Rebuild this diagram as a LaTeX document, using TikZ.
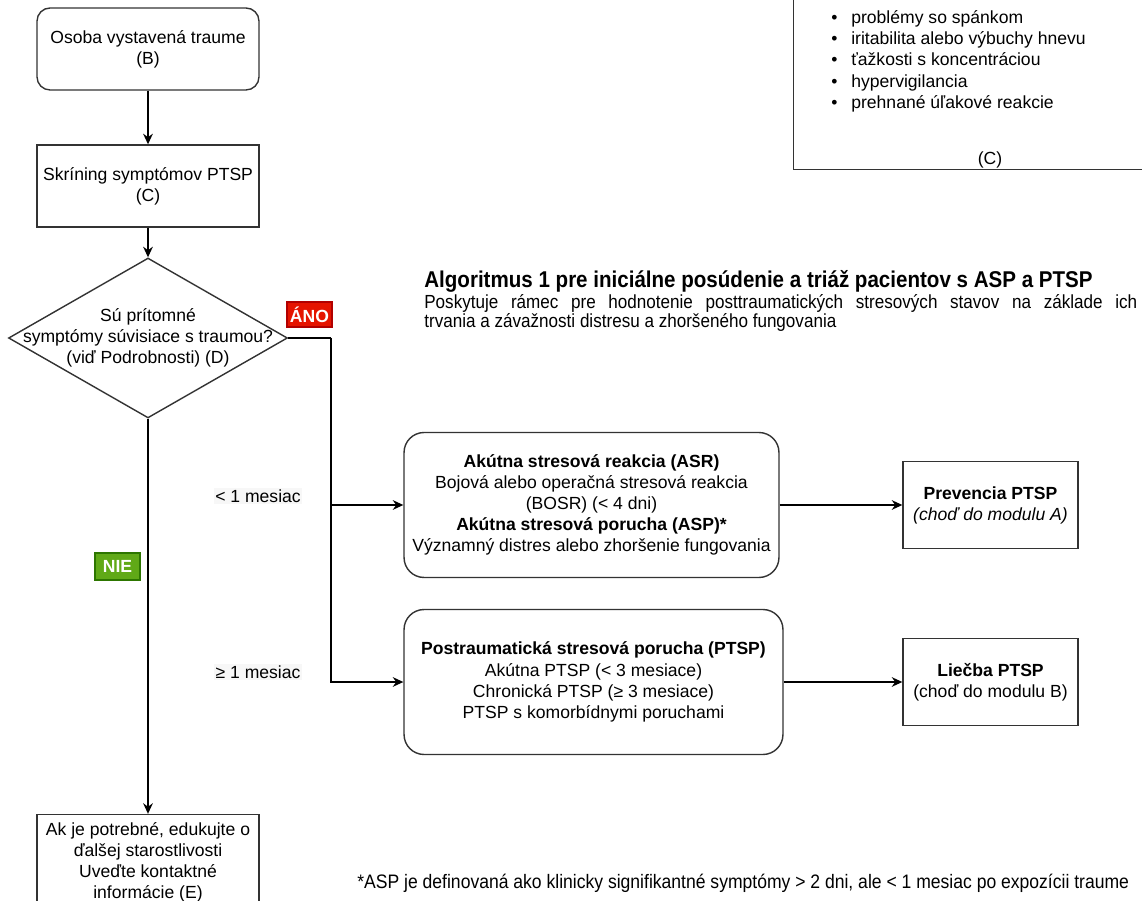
\documentclass[tikz,border=0pt]{standalone}
\usepackage{fontspec}
\setmainfont{Liberation Sans}
\newfontfamily\narrowfont[FakeStretch=0.9]{Liberation Sans}
\usepackage{xcolor}
\usepackage{tikz}
\usetikzlibrary{arrows.meta,positioning,shapes.geometric}
\definecolor{Lyes}{HTML}{E51400}
\definecolor{Lyesline}{HTML}{B20000}
\definecolor{Lno}{HTML}{60A917}
\definecolor{Lnoline}{HTML}{2D7600}
\definecolor{Lline}{HTML}{333333}

\begin{document}
\begin{tikzpicture}[
  x=0.02cm, y=-0.02cm,
  font=\fontsize{10}{12}\selectfont, >={Stealth[length=6pt,width=5.5pt]},
  box/.style={draw=Lline, line width=0.8pt, align=center, inner sep=2pt},
  rbox/.style={box, rounded corners=0.26cm},
  dmnd/.style={draw=Lline, line width=0.8pt, diamond, inner sep=0pt,
    minimum width=5.58cm, minimum height=3.2cm},
  tag/.style={font=\bfseries\fontsize{10}{12}\selectfont, text=white, inner sep=0pt, line width=0.6pt},
  elab/.style={fill=black!3, inner sep=1pt},
  arr/.style={->, line width=0.8pt},
]
\useasboundingbox (0,0) rectangle (1142,901);
\clip (0,0) rectangle (1142,901);

% ── left column ──────────────────────────────────────────────────────
\node[rbox, minimum width=4.44cm, minimum height=1.64cm] (expo) at (148,49)
  {Osoba vystavená traume\\(B)};
\node[box, minimum width=4.44cm, minimum height=1.64cm] (scrn) at (148,186)
  {Skríning symptómov PTSP\\(C)};
\node[dmnd] (qsym) at (148,338) {};
\node[align=center] (qtxt) at (qsym) {Sú prítomné\\symptómy súvisiace s traumou?\\(viď Podrobnosti) (D)};
\node[box, minimum width=4.44cm, minimum height=1.9cm] (educ) at (148,862)
  {Ak je potrebné, edukujte o\\ďalšej starostlivosti\\Uveďte kontaktné\\informácie (E)};

% ── yes / no tags ────────────────────────────────────────────────────
\node[tag, fill=Lyes, draw=Lyesline, minimum width=0.9cm, minimum height=0.5cm] (yes) at (309.5,314.5) {ÁNO};
\node[tag, fill=Lno, draw=Lnoline, minimum width=0.9cm, minimum height=0.54cm] (no) at (117.5,566.5) {NIE};

% ── duration branches ────────────────────────────────────────────────
\node[elab] (lt) at (258,496) {< 1 mesiac};
\node[elab] (ge) at (258,672) {≥ 1 mesiac};

\node[rbox, rounded corners=0.4cm, minimum width=7.5cm, minimum height=2.9cm] (asr) at (591.5,505)
  {\textbf{Akútna stresová reakcia (ASR)}\\Bojová alebo operačná stresová reakcia\\(BOSR) (< 4 dni)\\\textbf{Akútna stresová porucha (ASP)*}\\Významný distres alebo zhoršenie fungovania};
\node[rbox, rounded corners=0.4cm, minimum width=7.58cm, minimum height=2.9cm] (ptsp) at (593.5,682)
  {\textbf{Postraumatická stresová porucha (PTSP)}\\Akútna PTSP (< 3 mesiace)\\Chronická PTSP (≥ 3 mesiace)\\PTSP s komorbídnymi poruchami};

% ── modules ──────────────────────────────────────────────────────────
\node[box, minimum width=3.5cm, minimum height=1.74cm] (prev) at (990.5,505)
  {\textbf{Prevencia PTSP}\\\textit{(choď do modulu A)}};
\node[box, minimum width=3.5cm, minimum height=1.74cm] (treat) at (990.5,682)
  {\textbf{Liečba PTSP}\\(choď do modulu B)};

% ── symptom list (C) ─────────────────────────────────────────────────
\node[box, anchor=south west, minimum width=8cm, minimum height=4cm] (symp) at (793,170) {};
\node[anchor=north west, align=left, inner sep=0pt, font=\fontsize{10}{12.1}\selectfont] (list) at (831,10)
  {\makebox[0.4cm][l]{\textbullet}problémy so spánkom\\
   \makebox[0.4cm][l]{\textbullet}iritabilita alebo výbuchy hnevu\\
   \makebox[0.4cm][l]{\textbullet}ťažkosti s koncentráciou\\
   \makebox[0.4cm][l]{\textbullet}hypervigilancia\\
   \makebox[0.4cm][l]{\textbullet}prehnané úľakové reakcie};
\node (symc) at (990,160) {(C)};

% ── title and note ───────────────────────────────────────────────────
\node[anchor=base west, inner sep=0pt, font=\narrowfont\bfseries\fontsize{13}{15}\selectfont] (ttl) at (424,288)
  {Algoritmus 1 pre iniciálne posúdenie a triáž pacientov s ASP a PTSP};
\node[anchor=north west, text width=14.26cm, align=justify, inner sep=0pt,
  font=\narrowfont\fontsize{10.8}{10.8}\selectfont] (desc) at (424,294)
  {Poskytuje rámec pre hodnotenie posttraumatických stresových stavov na základe ich\linebreak trvania a závažnosti distresu a zhoršeného fungovania};
\node[anchor=base west, inner sep=0pt, font=\narrowfont\fontsize{11.1}{12}\selectfont] (note) at (357,888)
  {*ASP je definovaná ako klinicky signifikantné symptómy > 2 dni, ale < 1 mesiac po expozícii traume};

% edges
\coordinate (fork) at (331,338);
\draw[arr] (expo) -- (scrn);
\draw[arr] (scrn) -- (qsym);
\draw[line width=0.8pt] (qsym.east) -- (fork);
\draw[arr] (fork) |- (asr.west);
\draw[arr] (fork) |- (ptsp.west);
\draw[arr] (qsym.south) -- (educ.north);
\draw[arr] (asr.east) -- (prev.west);
\draw[arr] (ptsp.east) -- (treat.west);

\end{tikzpicture}
\end{document}
